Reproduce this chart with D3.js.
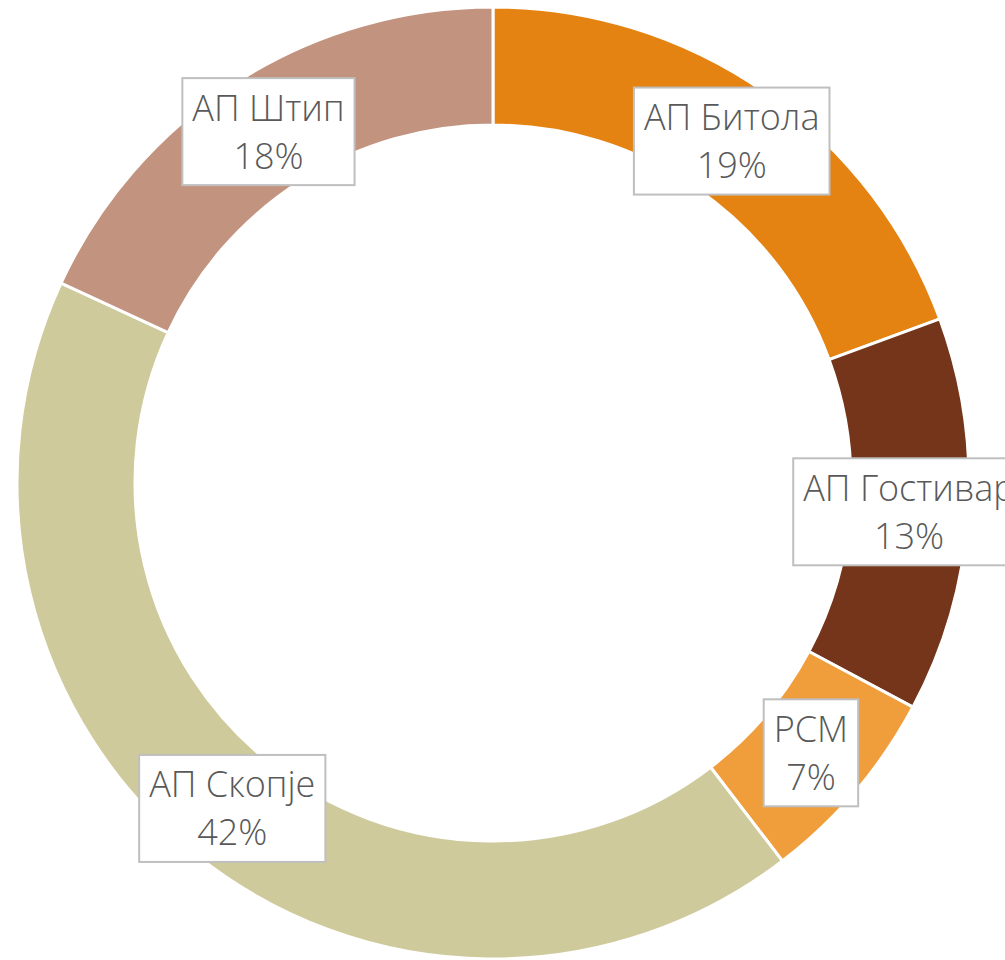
<!DOCTYPE html>
<html>
<head>
<meta charset="utf-8">
<script src="https://cdn.jsdelivr.net/npm/d3@7"></script>
<style>
  html, body { margin: 0; padding: 0; background: #fff; }
  svg { display: block; }
  .label text { font-family: "Segoe UI", "Open Sans", "Noto Sans", sans-serif; font-weight: 300; fill: #595959; }
</style>
</head>
<body>
<div class="chart"></div>
<script>
// data (share of total, %)
const regions = ['АП Битола', 'АП Гостивар', 'РСМ', 'АП Скопје', 'АП Штип'];
const shares = [19.4, 13.4, 6.8, 42.3, 18.1];
const colors = ['#E48312', '#74351A', '#F09E3C', '#CECA9B', '#C2937F'];

const width = 1005;
const height = 960;
const cx = 493;
const cy = 483;
const outerR = 476;
const innerR = 358;

const data = regions.map((r, i) => ({ region: r, value: shares[i] }));
const total = d3.sum(shares);

const svg = d3
  .select('.chart')
  .append('svg')
  .attr('width', width)
  .attr('height', height);

const group = svg.append('g').attr('transform', `translate(${cx}, ${cy})`);

const color = d3.scaleOrdinal().domain(regions).range(colors);

const pie = d3.pie().sort(null).value((d) => d.value);
const arc = d3.arc().innerRadius(innerR).outerRadius(outerR);

const arcs = pie(data);

// slices
group
  .selectAll('path')
  .data(arcs)
  .join('path')
  .attr('d', arc)
  .attr('fill', (d) => color(d.data.region))
  .attr('stroke', '#fff')
  .attr('stroke-width', 3);

// data labels: boxed, centered on slice centroid
const fontSize = 36;
const lineGap = 48;
const boxH = 107;

const labels = group
  .selectAll('g.label')
  .data(arcs)
  .join('g')
  .attr('class', 'label')
  .attr('transform', (d) => {
    const [x, y] = arc.centroid(d);
    return `translate(${x}, ${y})`;
  });

labels
  .append('rect')
  .attr('fill', '#fff')
  .attr('stroke', '#BFBFBF')
  .attr('stroke-width', 2);

labels
  .append('text')
  .attr('text-anchor', 'middle')
  .attr('font-size', fontSize + 'px')
  .attr('y', -lineGap / 2 + fontSize * 0.36)
  .text((d) => d.data.region);

labels
  .append('text')
  .attr('text-anchor', 'middle')
  .attr('font-size', fontSize + 'px')
  .attr('y', lineGap / 2 + fontSize * 0.36)
  .text((d) => Math.round((d.data.value / total) * 100) + '%');

labels.each(function () {
  const g = d3.select(this);
  let w = 0;
  g.selectAll('text').each(function () {
    w = Math.max(w, this.getComputedTextLength());
  });
  w += 20;
  g.select('rect')
    .attr('x', -w / 2)
    .attr('y', -boxH / 2)
    .attr('width', w)
    .attr('height', boxH);
});
</script>
</body>
</html>
